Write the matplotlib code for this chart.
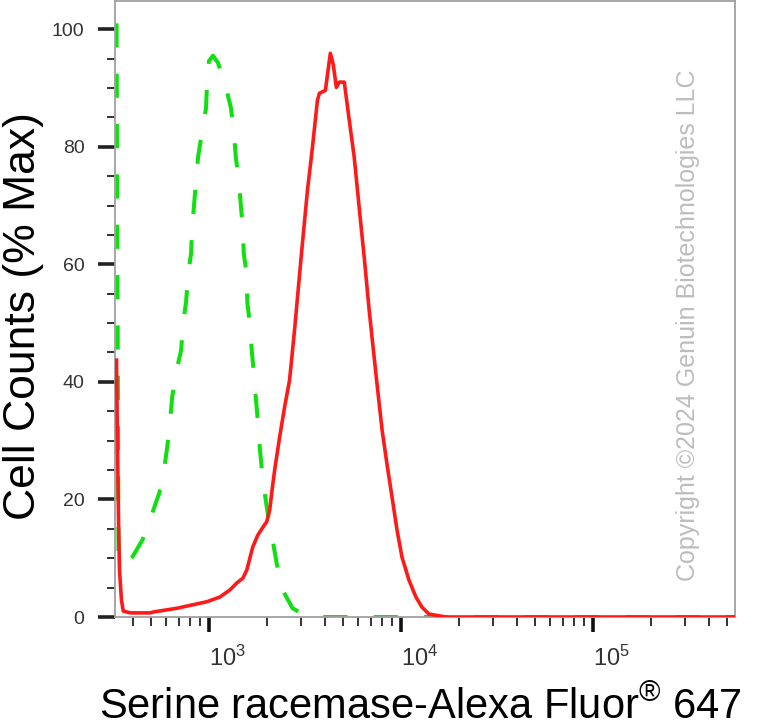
import matplotlib
matplotlib.use("Agg")
import matplotlib.pyplot as plt
from matplotlib.ticker import LogLocator, FixedLocator, FixedFormatter, NullFormatter, MultipleLocator

plt.rcParams['font.family'] = ['Liberation Sans', 'DejaVu Sans']
plt.rcParams['mathtext.fontset'] = 'custom'
plt.rcParams['mathtext.rm'] = 'Liberation Sans'
plt.rcParams['mathtext.it'] = 'Liberation Sans'

# Isotype control (green dashed): fluorescence intensity vs % max
iso_x = [330, 338, 363, 399, 450, 507, 551, 585, 606, 628, 643, 675, 716, 733,
         760, 778, 807, 817, 836, 857, 877, 920, 965, 977, 1000, 1049, 1113,
         1211, 1301, 1348, 1380, 1430, 1465, 1500, 1517, 1573, 1583, 1630,
         1670, 1710, 1752, 1795, 1838, 1883, 1950, 2022, 2146, 2250, 2418,
         2723, 3141, 3758, 20000, 100000, 550000]
iso_y = [101, 9.5, 9.0, 10.2, 13.1, 17.7, 21.1, 25.3, 28.9, 33.5, 37.4, 41.7,
         45.4, 50.0, 53.6, 58.2, 61.9, 66.2, 70.1, 74.3, 78.2, 82.5, 86.6,
         90.8, 94.6, 95.5, 94.3, 90.8, 86.6, 82.5, 78.2, 74.3, 70.1, 66.2,
         61.9, 58.2, 53.6, 50.0, 45.4, 41.7, 37.4, 33.5, 28.9, 25.3, 21.1,
         17.7, 13.1, 9.2, 4.6, 1.5, 0.3, 0, 0, 0, 0]

# Serine racemase stained sample (red solid)
sr_x = [330, 334, 338, 342, 350, 358, 390, 495, 513, 683, 976, 1140, 1285,
        1397, 1501, 1574, 1690, 1794, 1928, 1998, 2071, 2146, 2198, 2333,
        2476, 2628, 2790, 3033, 3258, 3458, 3671, 3760, 4039, 4287, 4444,
        4605, 4773, 5066, 5378, 5709, 6060, 6433, 6829, 7076, 7510, 7973,
        8463, 8983, 9535, 10120, 11000, 11960, 12850, 13970, 17110, 60000,
        200000, 550000]
sr_y = [43.7, 28.4, 16.5, 8.0, 2.9, 1.0, 0.7, 0.7, 0.85, 1.5, 2.6, 3.4, 4.6,
        5.8, 6.6, 8.0, 11.9, 13.9, 15.5, 16.2, 18.2, 22.4, 25.0, 30.6, 35.7,
        40.3, 48.8, 61.9, 72.6, 79.9, 87.9, 89.1, 89.6, 95.9, 93.9, 90.1,
        91.0, 91.0, 84.5, 78.2, 69.6, 61.2, 52.2, 47.4, 39.5, 31.8, 25.9,
        20.4, 14.8, 10.2, 6.3, 3.4, 1.7, 0.5, 0, 0, 0, 0]

y_ticks = [0, 20, 40, 60, 80, 100]
x_major = [1e3, 1e4, 1e5]
x_labels = [r'$\mathregular{10^{3}}$', r'$\mathregular{10^{4}}$', r'$\mathregular{10^{5}}$']

fig = plt.figure(figsize=(7.66, 7.28), dpi=100)
ax = fig.add_axes([115/766, 1 - 617/728, 620/766, 616/728])

ax.plot(iso_x, iso_y, color='#10e010', lw=2.9, dashes=(6.0, 6.5), zorder=2)
ax.plot(sr_x, sr_y, color='#ff1a1a', lw=2.6, zorder=3)

ax.set_xscale('log')
ax.set_xlim(324, 549000)
ax.set_ylim(0, 104.8)

ax.xaxis.set_major_locator(FixedLocator(x_major))
ax.xaxis.set_major_formatter(FixedFormatter(x_labels))
ax.xaxis.set_minor_locator(LogLocator(base=10, subs=[2, 3, 4, 5, 6, 7, 8, 9], numticks=20))
ax.xaxis.set_minor_formatter(NullFormatter())

ax.yaxis.set_major_locator(FixedLocator(y_ticks))
ax.yaxis.set_minor_locator(MultipleLocator(5))

for s in ax.spines.values():
    s.set_color('#a0a0a0')
    s.set_linewidth(1.3)

ax.tick_params(axis='y', which='major', length=12, width=2.6, color='#222222',
               labelsize=14, labelcolor='#333333', pad=10)
ax.tick_params(axis='y', which='minor', length=6, width=1.3, color='#222222')
ax.tick_params(axis='x', which='major', length=11, width=2.6, color='#111111',
               labelsize=17, labelcolor='#333333', pad=10)
ax.tick_params(axis='x', which='minor', length=6.5, width=1.3, color='#222222')
for lab in ax.get_xticklabels():
    lab.set_horizontalalignment('left')

fig.text(24/766, 1 - 316/728, 'Cell Counts (% Max)', rotation=90,
         ha='center', va='center', fontsize=32, color='black')
fig.text(420/766, 1 - 719/728, r'Serine racemase-Alexa Fluor$^{\mathregular{®}}$ 647',
         ha='center', va='baseline', fontsize=30, color='black')
fig.text(688/766, 1 - 325/728, 'Copyright \u00a92024 Genuin Biotechnologies LLC',
         rotation=90, ha='center', va='center', fontsize=18, color='#bdbdbd')

fig.savefig('out.png', dpi=100)
